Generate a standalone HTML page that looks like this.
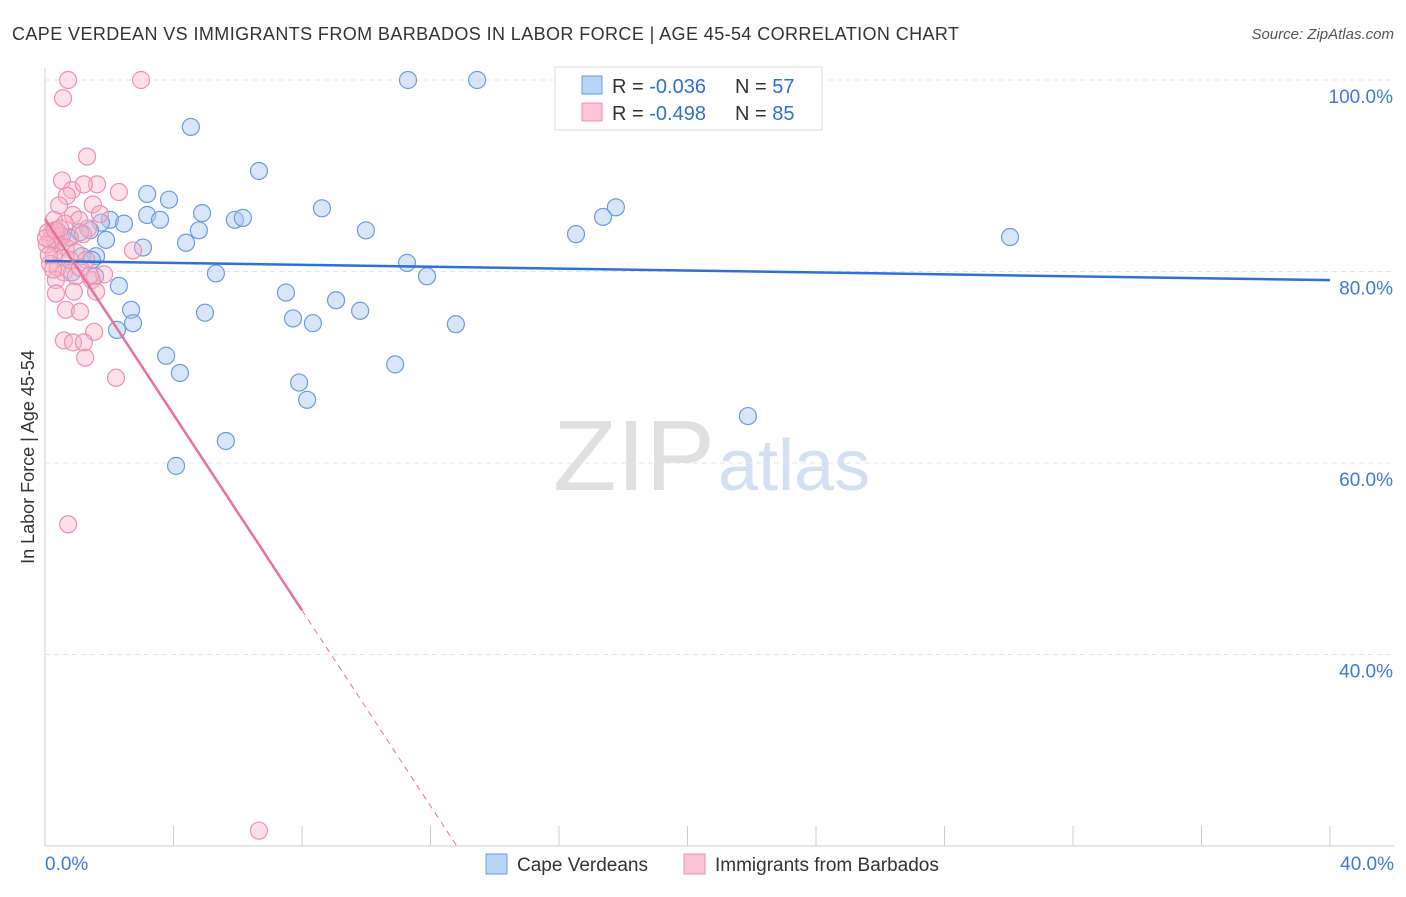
<!DOCTYPE html>
<html><head><meta charset="utf-8"><style>
body{margin:0;background:#fff;font-family:"Liberation Sans",sans-serif}
svg text{font-family:"Liberation Sans",sans-serif}
</style></head><body>
<svg width="1406" height="892" id="c">
<text x="12" y="40" font-size="18" fill="#333" textLength="947">CAPE VERDEAN VS IMMIGRANTS FROM BARBADOS IN LABOR FORCE | AGE 45-54 CORRELATION CHART</text>
<text x="1394" y="39" font-size="15" fill="#555" font-style="italic" text-anchor="end">Source: ZipAtlas.com</text>
<text x="553" y="490" font-size="100" fill="#e0e0e0" textLength="162" lengthAdjust="spacingAndGlyphs" font-family="Liberation Serif">ZIP</text>
<text x="718" y="490" font-size="72" fill="#d3e0f2">atlas</text>
<text transform="translate(34,457) rotate(-90)" font-size="18" fill="#333" text-anchor="middle">In Labor Force | Age 45-54</text>
<g id="grid"></g><g id="pts"></g><g id="lines"></g>
<g>
<rect x="555" y="67" width="267" height="63" fill="#fff" stroke="#ddd"/>
<rect x="582" y="76" width="20" height="18" fill="#b8d4f6" stroke="#6a9be0"/>
<rect x="582" y="103" width="20" height="18" fill="#fbc5d6" stroke="#ee8fae"/>
<text x="612" y="93" font-size="20" fill="#333">R = <tspan fill="#2f6fd6">-0.036</tspan></text>
<text x="735" y="93" font-size="20" fill="#333">N = <tspan fill="#2f6fd6">57</tspan></text>
<text x="612" y="120" font-size="20" fill="#333">R = <tspan fill="#2f6fd6">-0.498</tspan></text>
<text x="735" y="120" font-size="20" fill="#333">N = <tspan fill="#2f6fd6">85</tspan></text>
</g>
<g>
<rect x="486" y="854" width="21" height="20" fill="#b8d4f6" stroke="#6a9be0"/>
<text x="517" y="871" font-size="19" fill="#333">Cape Verdeans</text>
<rect x="684" y="854" width="21" height="20" fill="#fbc5d6" stroke="#ee8fae"/>
<text x="715" y="871" font-size="19" fill="#333">Immigrants from Barbados</text>
</g>
</svg>
<script>
const yTicks=[100,80,60,40];
const xTickLabels=["0.0%","40.0%"];
const blueX=[11.3,13.45,4.54,6.66,3.18,3.86,8.62,17.77,17.37,4.89,3.18,3.58,5.91,6.16,2.02,1.74,2.46,9.99,16.53,30.04,4.79,0.75,1.9,4.39,3.05,1.59,11.27,11.89,5.32,2.3,7.5,9.06,2.68,4.98,7.72,9.81,8.34,2.74,12.79,2.24,3.77,10.9,4.2,7.91,8.16,21.88,5.63,4.08,1.15,0.53,0.37,1.4,0.31,0.84,1.56,1.09,1.46];
const blueY=[100,100,95.1,90.5,88.1,87.5,86.6,86.7,85.7,86.1,85.9,85.4,85.4,85.6,85.4,85.1,85.0,84.3,83.9,83.6,84.3,83.6,83.3,83.0,82.5,81.6,80.9,79.5,79.8,78.5,77.8,77.0,76.0,75.7,75.1,75.9,74.6,74.6,74.5,73.9,71.2,70.3,69.4,68.4,66.6,64.9,62.3,59.7,81.6,83.7,84.3,84.3,83.3,79.9,79.5,84.1,81.2];
const pinkX=[.72,2.99,.56,1.31,.53,1.62,.84,2.3,.68,1.21,1.49,.44,1.71,.87,1.06,.28,.62,1.34,.22,.47,.78,1.18,.16,.4,.65,.96,2.74,.28,.53,.16,.4,1.28,.59,.96,1.84,1.46,.34,.9,1.59,.34,.65,1.09,.59,1.53,.87,1.21,1.25,2.21,.72,6.66,.09,.06,.12,.25,.03,.31,.47,.78,1.09,1.4];
const pinkY=[100,100,98.1,92,89.5,89.1,88.5,88.3,87.9,89.1,87,86.9,86,85.9,85.4,85.4,85,84.5,84.1,83.7,83.5,83.9,83.3,82.9,82.5,82,82.2,81.7,81.4,80.8,80.4,81.2,79.9,79.5,79.7,79.1,79.1,77.9,77.9,77.7,76,75.8,72.8,73.7,72.6,72.6,71,68.9,53.6,21.6,84.1,82.8,81.7,80.2,83.5,84.3,84.5,81.2,80.4,79.6];
const blueTrend=[81.1,79.1];
const pinkTrend=[85.5,-5.11];
const X=v=>45+v*32.125, Y=v=>80+(100-v)*9.575;
const NS="http://www.w3.org/2000/svg";
function mk(t,a,p){const e=document.createElementNS(NS,t);for(const k in a)e.setAttribute(k,a[k]);p.appendChild(e);return e;}
const g=document.getElementById('grid');
yTicks.forEach(t=>{
 const l=mk('line',{x1:45,x2:1394,y1:Y(t),y2:Y(t),stroke:'#e4e4e4','stroke-dasharray':'5,4'},g);
 
 
 const tx=mk('text',{x:1393,y:Y(t)+23,'font-size':19,fill:'#3f78d8','text-anchor':'end'},g);
 tx.textContent=t.toFixed(1)+'%';
 
 
});
mk('line',{x1:45,x2:45,y1:68,y2:846,stroke:'#ccc'},g);
mk('line',{x1:45,x2:1394,y1:846,y2:846,stroke:'#ccc'},g);
for(let i=1;i<=10;i++){mk('line',{x1:X(i*4),x2:X(i*4),y1:826,y2:846,stroke:'#ccc'},g);}
[[0,'start',45],[40,'end',1394]].forEach((d,i)=>{
 const tx=mk('text',{x:d[2],y:870,'font-size':19,fill:'#3f78d8','text-anchor':d[1]},g);
 tx.textContent=xTickLabels[i];
 
 
});
const p=document.getElementById('pts');
blueX.forEach((x,i)=>{const c=mk('circle',{cx:X(x),cy:Y(blueY[i]),r:8.5,fill:'rgba(170,200,240,0.45)',stroke:'#6a9be0','stroke-width':1.2},p);
 
 });
pinkX.forEach((x,i)=>{const c=mk('circle',{cx:X(x),cy:Y(pinkY[i]),r:8.5,fill:'rgba(248,180,200,0.4)',stroke:'#ee8fae','stroke-width':1.2},p);
 
 });
const L=document.getElementById('lines');
const b=mk('line',{x1:X(0),y1:Y(blueTrend[0]),x2:X(40),y2:Y(blueTrend[1]),stroke:'#2f6fd6','stroke-width':2.5},L);


const pf=x=>pinkTrend[0]+pinkTrend[1]*x;
const s=mk('line',{x1:X(0),y1:Y(pf(0)),x2:X(8),y2:Y(pf(8)),stroke:'#e8709a','stroke-width':2.5},L);


const xe=(20-pinkTrend[0])/pinkTrend[1];
const d=mk('line',{x1:X(8),y1:Y(pf(8)),x2:X(xe),y2:Y(20),stroke:'#e8709a','stroke-width':1,'stroke-dasharray':'6,5'},L);


</script>
</body></html>
